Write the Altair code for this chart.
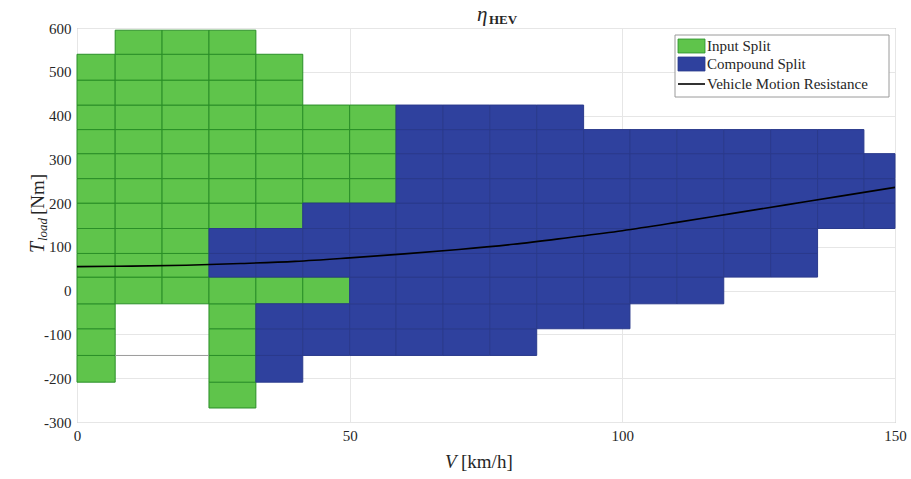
import altair as alt
import pandas as pd

# ---- data ----
v_edges = [0, 7, 15.6, 24.2, 32.8, 41.4, 50, 58.5, 67.1, 75.7, 84.3, 92.9,
           101.4, 110, 118.6, 127.2, 135.8, 144.3, 150]
t_edges = [-268, -209, -148, -87, -30, 31, 85, 142, 200, 256, 313, 368,
           424, 481, 540, 595]

# (speed column, first torque row, last torque row), rows counted from the bottom
input_split_runs = [(0, 1, 13), (1, 4, 14), (2, 4, 14), (3, 7, 14), (3, 0, 4),
                    (4, 7, 13), (4, 4, 4), (5, 8, 11), (5, 4, 4), (6, 8, 11)]
compound_split_runs = [(3, 5, 6), (4, 5, 6), (4, 1, 3), (5, 5, 7), (5, 2, 3),
                       (6, 2, 7), (7, 2, 11), (8, 2, 11), (9, 2, 11), (10, 3, 11),
                       (11, 3, 10), (12, 4, 10), (13, 4, 10), (14, 5, 10),
                       (15, 5, 10), (16, 7, 10), (17, 7, 9)]

speed = [0, 10, 20, 30, 40, 50, 60, 70, 80, 90, 100, 110, 120, 130, 140, 150]
resistance = [55, 56, 58, 62, 67, 75, 84, 94, 106, 121, 137, 156, 176, 196, 216, 236]

edge_line_v = [7, 24.2]
edge_line_t = [-148, -148]

x_ticks = [0, 50, 100, 150]
y_ticks = [-300, -200, -100, 0, 100, 200, 300, 400, 500, 600]

legend_labels = ["Input Split", "Compound Split", "Vehicle Motion Resistance"]

GREEN = "#5fc44b"
GREEN_EDGE = "#2a8f28"
BLUE = "#2f419e"
BLUE_EDGE = "#2a3a8c"
FONT = "Liberation Serif"


def cells(runs):
    rows = []
    for c, k0, k1 in runs:
        for k in range(k0, k1 + 1):
            rows.append({"v0": v_edges[c], "v1": v_edges[c + 1],
                         "t0": t_edges[k], "t1": t_edges[k + 1]})
    return pd.DataFrame(rows)


xscale = alt.Scale(domain=[0, 150], nice=False, zero=False)
yscale = alt.Scale(domain=[-300, 600], nice=False, zero=False)
xaxis = alt.Axis(values=x_ticks, title=None, labelExpr="'' + datum.value",
                 labelFlush=False)
yaxis = alt.Axis(values=y_ticks, title=None, labelExpr="'' + datum.value")


def cell_layer(df, fill, edge):
    return alt.Chart(df).mark_rect(fill=fill, stroke=edge, strokeWidth=1).encode(
        x=alt.X("v0:Q", scale=xscale, axis=xaxis),
        x2="v1:Q",
        y=alt.Y("t0:Q", scale=yscale, axis=yaxis),
        y2="t1:Q",
    )


green = cell_layer(cells(input_split_runs), GREEN, GREEN_EDGE)
blue = cell_layer(cells(compound_split_runs), BLUE, BLUE_EDGE)

edge_line = alt.Chart(pd.DataFrame({"v": edge_line_v, "t": edge_line_t})).mark_line(
    color="#9a9a9a", strokeWidth=1).encode(
    x=alt.X("v:Q", scale=xscale, axis=xaxis), y=alt.Y("t:Q", scale=yscale, axis=yaxis))

line = alt.Chart(pd.DataFrame({"v": speed, "t": resistance})).mark_line(
    color="#000000", strokeWidth=1.6, interpolate="monotone").encode(
    x=alt.X("v:Q", scale=xscale, axis=xaxis), y=alt.Y("t:Q", scale=yscale, axis=yaxis))

one = pd.DataFrame({"a": [0]})


def txt(text, x, y, size, style="normal", weight="normal", angle=0, align="left"):
    return alt.Chart(one).mark_text(
        text=text, font=FONT, fontSize=size, fontStyle=style, fontWeight=weight,
        angle=angle, align=align, baseline="middle", color="#262626"
    ).encode(x=alt.value(x), y=alt.value(y))


# title eta_HEV
title_eta = txt("η", 400, -13, 21, style="italic")
title_hev = txt("HEV", 412, -8, 13, weight="bold")

# x-axis title
xt_v = txt("V", 368, 434, 19, style="italic")
xt_unit = txt("[km/h]", 384, 434, 19)

# y-axis title (rotated)
yt_t = txt("T", -39, 225, 20, style="italic", angle=270)
yt_load = txt("load", -34, 213, 13, style="italic", angle=270)
yt_unit = txt("[Nm]", -39, 187, 19, angle=270)

# legend
leg_box = alt.Chart(one).mark_rect(fill="white", stroke="#9a9a9a", strokeWidth=1).encode(
    x=alt.value(598), x2=alt.value(812), y=alt.value(7), y2=alt.value(69))
leg_g = alt.Chart(one).mark_rect(fill=GREEN, stroke=GREEN_EDGE, strokeWidth=0.8).encode(
    x=alt.value(601), x2=alt.value(628), y=alt.value(11), y2=alt.value(25))
leg_b = alt.Chart(one).mark_rect(fill=BLUE, stroke=BLUE_EDGE, strokeWidth=0.8).encode(
    x=alt.value(601), x2=alt.value(628), y=alt.value(29), y2=alt.value(43))
leg_l = alt.Chart(one).mark_rule(color="black", strokeWidth=1.6).encode(
    x=alt.value(601), x2=alt.value(628), y=alt.value(56))
leg_t1 = txt(legend_labels[0], 630, 18, 15)
leg_t2 = txt(legend_labels[1], 630, 36, 15)
leg_t3 = txt(legend_labels[2], 630, 56, 15)

chart = alt.layer(
    green, blue, edge_line, line,
    title_eta, title_hev, xt_v, xt_unit, yt_t, yt_load, yt_unit,
    leg_box, leg_g, leg_b, leg_l, leg_t1, leg_t2, leg_t3,
).properties(
    width=818, height=394,
    autosize=alt.AutoSizeParams(type="none"),
    padding={"left": 77, "top": 28, "right": 16, "bottom": 57},
    background="white",
).configure_view(
    stroke="#a0a0a0", strokeWidth=1
).configure_axis(
    grid=True, gridColor="#e6e6e6", ticks=False, domain=False,
    labelFont=FONT, labelFontSize=15, labelColor="#262626", labelPadding=6,
)

chart.save("out.html", embed_options={"renderer": "svg", "actions": False})
